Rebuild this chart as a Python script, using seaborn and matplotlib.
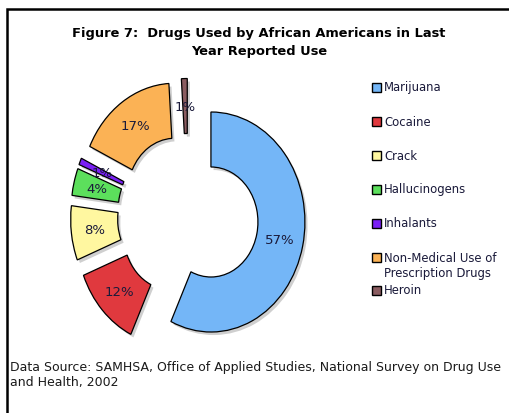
import matplotlib
matplotlib.use("Agg")
import matplotlib.pyplot as plt
from matplotlib.patches import Rectangle
import seaborn as sns

# Share of past-year drug use, percent
categories = ["Marijuana", "Cocaine", "Crack", "Hallucinogens", "Inhalants",
              "Non-Medical Use of\nPrescription Drugs", "Heroin"]
shares = [57, 12, 8, 4, 1, 17, 1]
pct_labels = ["57%", "12%", "8%", "4%", "1%", "17%", "1%"]
palette = ["#74b6f7", "#e0393e", "#fff7a0", "#5cdf5c", "#7a1ff5", "#fbb255", "#8a5c60"]

title_text = "Figure 7:  Drugs Used by African Americans in Last\nYear Reported Use"
source_text = ("Data Source: SAMHSA, Office of Applied Studies, National Survey on Drug Use\n"
               "and Health, 2002")

sns.set_theme(style="white")
plt.rcParams["font.family"] = ["DejaVu Sans"]

W, H = 509, 414
fig = plt.figure(figsize=(W / 100, H / 100), dpi=100)
fig.patch.set_facecolor("white")

# Axes sized so the unit ring is slightly taller than wide
rx, ry = 94, 110
cx, cy = 188, 217
ax = fig.add_axes([(cx - 1.25 * rx) / W, (H - cy - 1.25 * ry) / H,
                   2.5 * rx / W, 2.5 * ry / H])

wedges, texts = ax.pie(
    shares,
    labels=pct_labels,
    labeldistance=0.75,
    colors=sns.color_palette(palette),
    startangle=90,
    counterclock=False,
    explode=[0.25] * len(shares),
    wedgeprops=dict(width=0.5, edgecolor="black", linewidth=0.9),
    textprops=dict(fontsize=9.5, color="#1a1a3a", ha="center", va="center"),
    shadow=dict(ox=0.02, oy=-0.02, facecolor="#a0a0a0", edgecolor="none", alpha=0.5),
)
for t in texts:
    t.set_horizontalalignment("center")
    t.set_verticalalignment("center")
ax.set_aspect("auto")
ax.set_xlim(-1.25, 1.25)
ax.set_ylim(-1.25, 1.25)
ax.axis("off")

# Title
fig.text(259 / W, 1 - 43 / H, title_text, ha="center", va="center",
         fontsize=9.4, fontweight="bold", linespacing=1.5, color="black")

# Legend column
leg_y = [88, 122, 156, 190, 224, 258, 291]
sq = 9
for name, col, y in zip(categories, palette, leg_y):
    fig.patches.append(Rectangle((372 / W, 1 - (y + sq / 2) / H), sq / W, sq / H,
                                 transform=fig.transFigure, facecolor=col,
                                 edgecolor="black", linewidth=1.0))
    if "\n" in name:
        fig.text(384 / W, 1 - (y - 6) / H, name, ha="left", va="top",
                 fontsize=8.4, color="#1a1a3a", linespacing=1.2)
    else:
        fig.text(384 / W, 1 - y / H, name, ha="left", va="center",
                 fontsize=8.4, color="#1a1a3a")

# Source note
fig.text(10 / W, 1 - 375 / H, source_text, ha="left", va="center",
         fontsize=9.0, color="#1a1a1a", linespacing=1.25)

# Outer frame
fig.patches.append(Rectangle((7 / W, -0.05), 1.2, 1 - 10 / H + 0.05,
                             transform=fig.transFigure, facecolor="none",
                             edgecolor="black", linewidth=1.8))

fig.savefig("out.png", dpi=100)
